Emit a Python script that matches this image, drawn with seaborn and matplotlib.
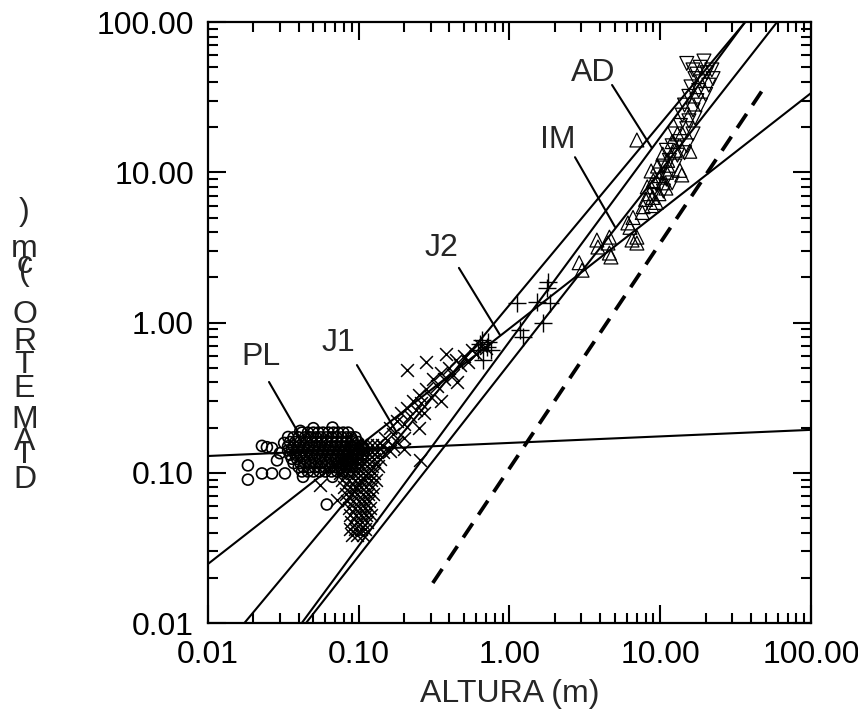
import numpy as np
import pandas as pd
import matplotlib
matplotlib.use("Agg")
import matplotlib.pyplot as plt
import seaborn as sns
from matplotlib.ticker import LogLocator, FuncFormatter, NullFormatter

# ---------------- data ----------------
# PL (circles): dense blob + outliers
pl_x = [0.042, 0.046, 0.050, 0.054, 0.058, 0.063, 0.068, 0.073, 0.079, 0.085,
        0.037, 0.040, 0.044, 0.048, 0.052, 0.056, 0.061, 0.066, 0.071, 0.077, 0.083, 0.089, 0.095,
        0.035, 0.038, 0.041, 0.045, 0.049, 0.053, 0.057, 0.062, 0.067, 0.072, 0.078, 0.084, 0.091, 0.099,
        0.034, 0.037, 0.040, 0.043, 0.047, 0.051, 0.055, 0.060, 0.065, 0.070, 0.076, 0.082, 0.088, 0.095, 0.104,
        0.034, 0.036, 0.039, 0.042, 0.046, 0.050, 0.054, 0.058, 0.063, 0.068, 0.074, 0.080, 0.086, 0.093, 0.101, 0.109,
        0.035, 0.038, 0.041, 0.045, 0.049, 0.053, 0.057, 0.062, 0.067, 0.072, 0.078, 0.084, 0.091, 0.098, 0.106,
        0.036, 0.039, 0.043, 0.047, 0.051, 0.055, 0.060, 0.065, 0.070, 0.076, 0.082, 0.089, 0.097, 0.104,
        0.037, 0.041, 0.044, 0.048, 0.052, 0.057, 0.062, 0.067, 0.073, 0.079, 0.085, 0.092, 0.100,
        0.040, 0.043, 0.047, 0.051, 0.055, 0.060, 0.065, 0.070, 0.076, 0.082, 0.089, 0.095,
        0.042, 0.046, 0.050, 0.055, 0.060, 0.066, 0.072, 0.079, 0.086,
        0.0184, 0.0228, 0.0266, 0.0287, 0.0246, 0.0228, 0.0266, 0.0324, 0.0427, 0.0614,
        0.034, 0.041, 0.050, 0.067, 0.091, 0.107, 0.030, 0.0184, 0.067, 0.032]
pl_y = [0.185] * 10 + [0.172] * 13 + [0.160] * 14 + [0.150] * 15 + [0.141] * 16 + \
       [0.132] * 15 + [0.124] * 14 + [0.116] * 13 + [0.109] * 12 + [0.102] * 9 + \
       [0.090, 0.151, 0.146, 0.121, 0.148, 0.099, 0.099, 0.099, 0.094, 0.0615,
        0.173, 0.190, 0.198, 0.200, 0.165, 0.148, 0.135, 0.112, 0.094, 0.158]

# J1 (x markers): dense vertical blob + tail
j1_x = [0.0836, 0.0973, 0.105, 0.1135, 0.1225, 0.132, 0.1425,
        0.078, 0.090, 0.0973, 0.105, 0.1135, 0.1225, 0.132, 0.145,
        0.075, 0.0836, 0.090, 0.100, 0.108, 0.117, 0.127, 0.138,
        0.072, 0.080, 0.088, 0.096, 0.104, 0.113, 0.123, 0.135,
        0.075, 0.083, 0.091, 0.099, 0.107, 0.116, 0.127,
        0.078, 0.086, 0.094, 0.102, 0.110, 0.120, 0.130,
        0.080, 0.088, 0.095, 0.103, 0.112, 0.122,
        0.082, 0.090, 0.098, 0.106, 0.115, 0.125,
        0.084, 0.092, 0.100, 0.108, 0.117,
        0.086, 0.094, 0.102, 0.110, 0.119,
        0.088, 0.096, 0.104, 0.112, 0.120,
        0.089, 0.097, 0.105, 0.113,
        0.088, 0.095, 0.103, 0.110,
        0.090, 0.098, 0.106,
        0.145, 0.160, 0.180, 0.200, 0.254, 0.055, 0.072,
        0.150, 0.160, 0.170, 0.180, 0.190, 0.200, 0.210, 0.220, 0.230, 0.240,
        0.250, 0.260, 0.280, 0.300, 0.310, 0.330, 0.350, 0.370, 0.400, 0.420,
        0.440, 0.470, 0.500, 0.530, 0.560, 0.600, 0.650, 0.700, 0.209, 0.280,
        0.380, 0.450, 0.350, 0.270, 0.200, 0.170, 0.250]
j1_y = [0.153] * 7 + [0.137] * 8 + [0.123] * 8 + [0.111] * 8 + [0.0995] * 7 + \
       [0.0895] * 7 + [0.0804] * 6 + [0.0722] * 6 + [0.0649] * 5 + [0.0583] * 5 + \
       [0.0523] * 5 + [0.047] * 4 + [0.0422] * 4 + [0.0385] * 3 + \
       [0.150, 0.140, 0.160, 0.145, 0.121, 0.083, 0.066,
        0.170, 0.200, 0.180, 0.220, 0.250, 0.210, 0.270, 0.240, 0.300, 0.260,
        0.330, 0.290, 0.360, 0.320, 0.420, 0.380, 0.460, 0.420, 0.500, 0.450,
        0.560, 0.520, 0.600, 0.550, 0.660, 0.620, 0.700, 0.680, 0.483, 0.550,
        0.620, 0.400, 0.300, 0.250, 0.170, 0.150, 0.200]

# J2 (+ markers)
j2_x = [1.80, 1.78, 1.12, 1.52, 1.86, 1.17, 1.23, 1.67, 0.66, 0.71, 0.62, 0.67, 0.72, 0.75, 0.64]
j2_y = [1.86, 1.70, 1.35, 1.37, 1.35, 0.89, 0.80, 0.99, 0.77, 0.69, 0.66, 0.56, 0.74, 0.66, 0.72]

# IM (triangles up)
im_x = [2.9, 3.03, 3.8, 3.86, 4.5, 4.71, 6.1, 6.5, 7.0, 7.6, 8.0, 9.4, 8.2, 8.7, 10.9,
        7.0, 10.4, 13.9, 15.7, 8.5, 9.0, 9.6, 10.0, 11.2, 12.0, 8.8, 9.8, 11.0, 12.5, 13.0,
        10.4, 13.5, 8.9, 7.7, 6.6, 6.3, 7.0, 4.6, 4.6]
im_y = [2.5, 2.23, 3.54, 3.18, 3.38, 2.73, 4.6, 3.54, 3.38, 5.4, 6.6, 6.3, 8.0, 10.2, 7.85,
        16.4, 13.2, 9.6, 13.8, 7.2, 8.8, 11.0, 9.5, 12.0, 16.0, 6.0, 7.2, 10.0, 14.0, 18.0,
        8.5, 10.3, 6.8, 5.9, 5.0, 4.3, 3.7, 3.7, 2.9]

# AD (triangles down)
ad_x = [15.0, 16.5, 18.4, 20.4, 22.0, 17.0, 19.0, 21.0, 16.0, 18.0, 15.5, 17.5, 20.0, 14.5,
        16.5, 18.5, 14.0, 15.5, 17.0, 13.6, 15.0, 16.5, 12.5, 13.5, 15.0, 12.0, 11.0, 13.0,
        14.5, 11.5, 10.5, 12.5, 10.0, 11.0, 9.5, 10.5, 9.0, 12.0, 19.5, 17.5, 22.4]
ad_y = [53, 48, 50, 46, 48, 42, 40, 38, 37, 35, 32, 30, 33, 28,
        26, 28, 24, 22, 23, 20.5, 19.5, 18, 18, 16, 15, 15, 14, 13,
        13.5, 12, 11, 11, 9.6, 9.0, 8.2, 7.5, 7.0, 8.5, 55, 45, 42]

# fitted power lines  y = a * x**b
fit_names = ["PL", "J1", "J2", "IM", "AD"]
fit_a = [0.158, 1.31, 0.912, 0.534, 0.748]
fit_b = [0.0435, 1.204, 0.7835, 1.28, 1.36]

# dashed reference line
ref_a, ref_b = 0.107, 1.5
ref_xmin, ref_xmax = 0.31, 47.0

# labels: (text position, leader start, leader end) in data units
lab_names = ["PL", "J1", "J2", "IM", "AD"]
lab_txt = [(0.0225, 0.589), (0.0728, 0.731), (0.3516, 3.13), (2.10, 16.4), (3.58, 45.8)]
lab_l0 = [(0.0254, 0.402), (0.0973, 0.521), (0.462, 2.31), (2.72, 12.6), (4.79, 38.1)]
lab_l1 = [(0.0395, 0.1866), (0.1795, 0.184), (0.865, 0.826), (5.01, 4.33), (8.81, 14.5)]

ticks = [0.01, 0.1, 1, 10, 100]

# ---------------- plotting ----------------
sns.set_style("ticks")
plt.rcParams['font.family'] = ['Liberation Sans', 'DejaVu Sans']
FS = 23

fig = plt.figure(figsize=(8.58, 7.2), dpi=100)
ax = fig.add_axes([0.2424, 0.1347, 0.7028, 0.8347])
ax.set_xscale('log')
ax.set_yscale('log')

xg = np.logspace(-2, 2, 400)
for a, b in zip(fit_a, fit_b):
    sns.lineplot(x=xg, y=a * xg ** b, color='black', lw=1.5, ax=ax, zorder=3)

xr = np.logspace(np.log10(ref_xmin), np.log10(ref_xmax), 100)
sns.lineplot(x=xr, y=ref_a * xr ** ref_b, color='black', lw=2.7, ax=ax,
             linestyle=(0, (4.5, 2.8)), zorder=3)

def pts(xs, ys):
    n = min(len(xs), len(ys))
    return list(xs[:n]), list(ys[:n])

px, py = pts(pl_x, pl_y)
sns.scatterplot(x=px, y=py, marker='o', s=62, fc='none', ec='black', linewidth=1.2, ax=ax, zorder=2)
px, py = pts(j1_x, j1_y)
sns.scatterplot(x=px, y=py, marker='x', s=85, color='black', linewidth=1.1, ax=ax, zorder=2)
px, py = pts(j2_x, j2_y)
sns.scatterplot(x=px, y=py, marker='+', s=150, color='black', linewidth=1.0, ax=ax, zorder=2)
px, py = pts(im_x, im_y)
sns.scatterplot(x=px, y=py, marker='^', s=100, fc='none', ec='black', linewidth=0.9, ax=ax, zorder=2)
px, py = pts(ad_x, ad_y)
sns.scatterplot(x=px, y=py, marker='v', s=100, fc='none', ec='black', linewidth=0.9, ax=ax, zorder=2)

for name, t, p0, p1 in zip(lab_names, lab_txt, lab_l0, lab_l1):
    ax.plot([p0[0], p1[0]], [p0[1], p1[1]], color='black', lw=1.5, zorder=4)
    ax.text(t[0], t[1], name, fontsize=FS, ha='center', va='center', zorder=4)

ax.set_xlim(0.01, 100)
ax.set_ylim(0.01, 100)

fmt = FuncFormatter(lambda v, p: f"{v:.2f}")
for axis in (ax.xaxis, ax.yaxis):
    axis.set_major_locator(LogLocator(base=10, numticks=10))
    axis.set_minor_locator(LogLocator(base=10, subs=np.arange(2, 10), numticks=20))
    axis.set_major_formatter(fmt)
    axis.set_minor_formatter(NullFormatter())
ax.set_xticks(ticks)
ax.set_yticks(ticks)

ax.tick_params(which='both', direction='in', top=True, right=True, width=1.5, colors='black')
ax.tick_params(which='major', length=13, labelsize=FS)
ax.tick_params(axis='x', which='major', pad=12)
ax.tick_params(axis='y', which='major', pad=10)
ax.tick_params(which='minor', length=7)
for sp in ax.spines.values():
    sp.set_linewidth(1.6)
    sp.set_color('black')
ax.grid(False)

ax.set_xlabel('ALTURA (m)', fontsize=FS, labelpad=7)
ax.set_ylabel('')

# stacked vertical label as in the reference
ylab_chars = [")", "m", "c", "(", "O", "R", "T", "E", "M", "A", "I", "D"]
ylab_base = [220, 257, 273, 280, 323, 350, 373, 397, 428, 450, 463, 488]
for ch, yb in zip(ylab_chars, ylab_base):
    fig.text(24.5 / 858, 1 - yb / 720, ch, fontsize=FS, ha='center', va='baseline')

fig.savefig('out.png', dpi=100, facecolor='white')
